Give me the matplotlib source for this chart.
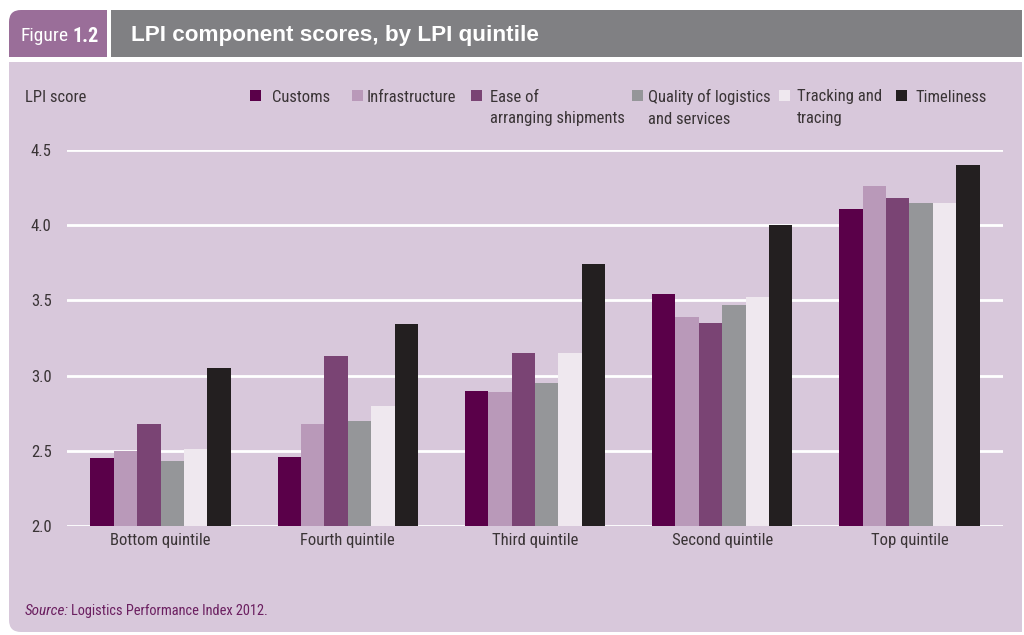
import matplotlib
matplotlib.use("Agg")
import matplotlib.pyplot as plt
from matplotlib.patches import FancyBboxPatch, Rectangle
import numpy as np

categories = ["Bottom quintile", "Fourth quintile", "Third quintile", "Second quintile", "Top quintile"]
series_names = ["Customs", "Infrastructure", "Ease of\narranging shipments",
                "Quality of logistics\nand services", "Tracking and\ntracing", "Timeliness"]
customs = [2.45, 2.46, 2.90, 3.54, 4.11]
infrastructure = [2.50, 2.68, 2.89, 3.39, 4.26]
ease = [2.68, 3.13, 3.15, 3.35, 4.18]
quality = [2.43, 2.70, 2.95, 3.47, 4.15]
tracking = [2.51, 2.80, 3.15, 3.52, 4.15]
timeliness = [3.05, 3.34, 3.74, 4.00, 4.40]
yticks = [2.0, 2.5, 3.0, 3.5, 4.0, 4.5]
ytick_labels = ["2.0", "2.5", "3.0", "3.5", "4.0", "4.5"]

series = [customs, infrastructure, ease, quality, tracking, timeliness]
colors = ["#5a0049", "#b999b9", "#7a4474", "#959699", "#efe8ef", "#231f20"]

NARROW = ["Roboto Condensed", "Liberation Sans Narrow", "Roboto", "DejaVu Sans"]
TXT = "#3a3436"
W, H = 1024, 635

fig = plt.figure(figsize=(W / 100, H / 100), dpi=100)
fig.patch.set_facecolor("white")

bg = fig.add_axes([0, 0, 1, 1], zorder=0)
bg.set_xlim(0, W)
bg.set_ylim(H, 0)
bg.axis("off")

panel_col = "#d8c8db"
bg.add_patch(FancyBboxPatch((9, 62), 1013, 570, boxstyle="round,pad=0,rounding_size=12",
                            fc=panel_col, ec="none"))
bg.add_patch(Rectangle((9, 62), 1013, 300, fc=panel_col, ec="none"))
bg.add_patch(Rectangle((500, 62), 522, 570, fc=panel_col, ec="none"))
tab_col = "#9a6e99"
bg.add_patch(FancyBboxPatch((9, 10), 98, 47, boxstyle="round,pad=0,rounding_size=12",
                            fc=tab_col, ec="none"))
bg.add_patch(Rectangle((9, 30), 98, 27, fc=tab_col, ec="none"))
bg.add_patch(Rectangle((50, 10), 57, 47, fc=tab_col, ec="none"))
bg.add_patch(Rectangle((111, 10), 911, 47, fc="#808083", ec="none"))

bg.text(21, 36, "Figure", color="white", fontsize=14, family=NARROW, va="center", ha="left")
bg.text(72, 36, "1.2", color="white", fontsize=14.5, family=NARROW, weight="bold", va="center", ha="left")
bg.text(131, 36, "LPI component scores, by LPI quintile", color="white", fontsize=16.2,
        family=["Liberation Sans", "DejaVu Sans"], weight="bold", va="center", ha="left")

bg.text(25, 97, "LPI score", color=TXT, fontsize=12, family=NARROW, va="center", ha="left")

sq_x = [250, 352, 471, 632, 779, 896]
txt_x = [272, 367, 490, 648, 797, 915]
for name, c, sx, tx in zip(series_names, colors, sq_x, txt_x):
    bg.add_patch(Rectangle((sx, 90), 10.5, 11, fc=c, ec="none"))
    for k, line in enumerate(name.split("\n")):
        bg.text(tx, 97 + 22 * k, line, color=TXT, fontsize=12, family=NARROW,
                va="center", ha="left")

bg.text(25, 611, "Source:", color="#6b1f60", fontsize=11, family=NARROW, style="italic",
        va="center", ha="left")
bg.text(71, 611, "Logistics Performance Index 2012.", color="#6b1f60", fontsize=10.4,
        family=NARROW, va="center", ha="left")

ax = fig.add_axes([67 / W, 1 - 526 / H, (1003 - 67) / W, (526 - 150) / H], zorder=1)
ax.set_facecolor("none")
x = np.arange(len(categories))
bw = 0.125
for i, (vals, c) in enumerate(zip(series, colors)):
    ax.bar(x + (i - 2.5) * bw, np.array(vals) - 2.0, bottom=2.0, width=bw, color=c,
           zorder=3, linewidth=0)
ax.set_xlim(-0.5, 4.5)
ax.set_ylim(2.0, 4.5)
ax.set_yticks(yticks)
ax.set_yticklabels(ytick_labels)
ax.set_xticks(x)
ax.set_xticklabels(categories)
for t in ax.get_xticklabels() + ax.get_yticklabels():
    t.set_family(NARROW)
    t.set_fontsize(12)
    t.set_color(TXT)
ax.tick_params(axis="both", length=0)
ax.tick_params(axis="y", pad=11)
ax.tick_params(axis="x", pad=5)
ax.grid(axis="y", color="white", linewidth=2, zorder=0)
ax.set_axisbelow(True)
for s in ax.spines.values():
    s.set_visible(False)

fig.savefig("out.png", dpi=100, facecolor="white")
